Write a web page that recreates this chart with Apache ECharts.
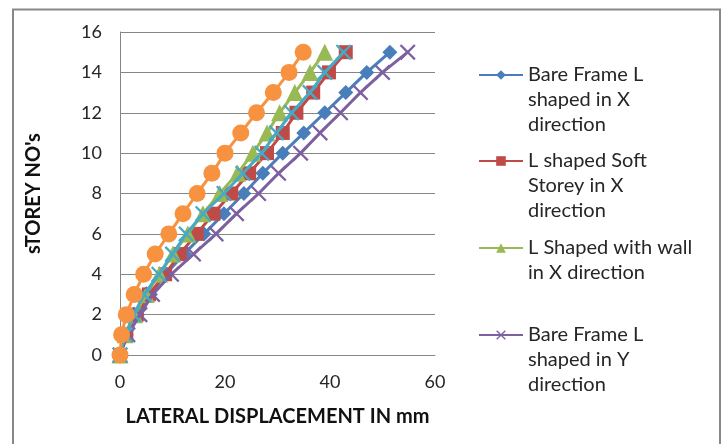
<!DOCTYPE html>
<html>
<head>
<meta charset="utf-8">
<script src="https://cdn.jsdelivr.net/npm/echarts@6/dist/echarts.min.js"></script>
<style>
html,body{margin:0;padding:0;background:#fff;}
#chart{width:724px;height:444px;}
</style>
</head>
<body>
<div id="chart"></div>
<script>
// Storey numbers (y values)
var storeys = [0,1,2,3,4,5,6,7,8,9,10,11,12,13,14,15];
// Lateral displacement (mm) per storey
var bareFrameX   = [0,1.2,3.3,5.8,8.7,12.2,16.0,19.8,23.6,27.2,31.0,35.0,39.0,43.0,47.0,51.4];
var softStoreyX  = [0,1.2,3.2,5.5,8.6,11.4,14.6,17.8,21.2,24.6,28.0,31.0,33.6,36.8,39.8,43.0];
var withWallX    = [0,1.0,2.8,5.0,7.5,10.1,12.9,15.8,19.0,22.4,25.3,28.0,30.4,33.3,36.2,39.0];
var bareFrameY   = [0,1.5,3.8,6.2,9.8,14.0,18.3,22.2,26.4,30.2,34.4,38.1,42.0,45.8,50.0,54.8];
var softStoreyY  = [0,1.0,2.6,4.6,7.4,10.0,12.6,15.8,19.8,23.4,27.0,29.8,32.7,36.2,39.0,42.6];
var withWallY    = [0,0.3,1.2,2.7,4.5,6.7,9.3,12.0,14.7,17.5,20.0,23.0,26.0,29.2,32.2,34.9];

var seriesNames = [
  'Bare Frame L shaped in X direction',
  'L shaped Soft Storey in X direction',
  'L Shaped with wall in X direction',
  'Bare Frame L shaped in Y direction',
  'L shaped Soft Storey in Y direction',
  'L Shaped with wall in Y direction'
];
var legendLabels = [
  'Bare Frame L\nshaped in X\ndirection',
  'L shaped Soft\nStorey in X\ndirection',
  'L Shaped with wall\nin X direction',
  'Bare Frame L\nshaped in Y\ndirection'
];
var xTicks = [0,20,40,60];
var yTicks = [0,2,4,6,8,10,12,14,16];

var colors = ['#4A7EBB','#BE4B48','#98B954','#7D60A0','#46AAC5','#F69240'];
var X_PATH = 'path://M0,1 L1,0 L5,4 L9,0 L10,1 L6,5 L10,9 L9,10 L5,6 L1,10 L0,9 L4,5 Z';
var symbols = ['diamond','rect','triangle',X_PATH,X_PATH,'circle'];
var symbolSizes = [15,14,17,16,16,17];
var allData = [bareFrameX, softStoreyX, withWallX, bareFrameY, softStoreyY, withWallY];

function pairs(xs){ return xs.map(function(v,i){ return [v, storeys[i]]; }); }

var series = allData.map(function(d,i){
  return {
    name: seriesNames[i],
    type: 'line',
    data: pairs(d),
    symbol: symbols[i],
    symbolSize: symbolSizes[i],
    showAllSymbol: true,
    color: colors[i],
    lineStyle: {width: 3, color: colors[i]},
    itemStyle: {color: colors[i]},
    emphasis: {disabled: true},
    animation: false,
    z: 2 + i
  };
});

var L = 25;
var legendIconY = [75, 161, 248, 335];
var legends = legendLabels.map(function(lbl, i){
  var n = lbl.split('\n').length;
  var blanks = '';
  for (var k = 0; k < n - 1; k++) blanks += ' \n';
  var txt = blanks + lbl;
  return {
    orient: 'vertical',
    left: 478,
    top: legendIconY[i] - (2*n-1)*L/2,
    itemWidth: 44,
    itemHeight: 12,
    itemGap: 0,
    padding: 0,
    selectedMode: false,
    data: [seriesNames[i]],
    formatter: function(){ return txt; },
    textStyle: {
      fontFamily: 'Lato',
      fontSize: 20,
      lineHeight: L,
      color: '#262626'
    }
  };
});

var option = {
  backgroundColor: '#fff',
  animation: false,
  grid: {left: 120, right: 289, top: 32, bottom: 89, containLabel: false},
  legend: legends,
  xAxis: {
    type: 'value', min: xTicks[0], max: xTicks[xTicks.length-1], interval: 20,
    name: 'LATERAL DISPLACEMENT IN mm',
    nameLocation: 'middle', nameGap: 52,
    nameTextStyle: {fontFamily: 'Lato', fontWeight: 'bold', fontSize: 20, color: '#111'},
    axisLine: {show: true, lineStyle: {color: '#868686', width: 1}},
    axisTick: {show: false},
    splitLine: {show: false},
    axisLabel: {fontFamily: 'Lato', fontSize: 18, color: '#262626', margin: 18}
  },
  yAxis: {
    type: 'value', min: yTicks[0], max: yTicks[yTicks.length-1], interval: 2,
    name: "sTOREY NO's",
    nameLocation: 'middle', nameGap: 76, nameRotate: 90,
    nameTextStyle: {fontFamily: 'Lato', fontWeight: 'bold', fontSize: 20, color: '#111'},
    axisLine: {show: true, lineStyle: {color: '#868686', width: 1}},
    axisTick: {show: false},
    splitLine: {show: true, lineStyle: {color: '#868686', width: 1}},
    axisLabel: {fontFamily: 'Lato', fontSize: 18, color: '#262626', margin: 18}
  },
  graphic: [{
    type: 'rect', silent: true,
    shape: {x: 13, y: 9.5, width: 707, height: 460},
    style: {fill: 'none', stroke: '#888', lineWidth: 2}
  }],
  series: series
};

var chart = echarts.init(document.getElementById('chart'), null, {renderer: 'canvas'});
chart.setOption(option);
</script>
</body>
</html>
